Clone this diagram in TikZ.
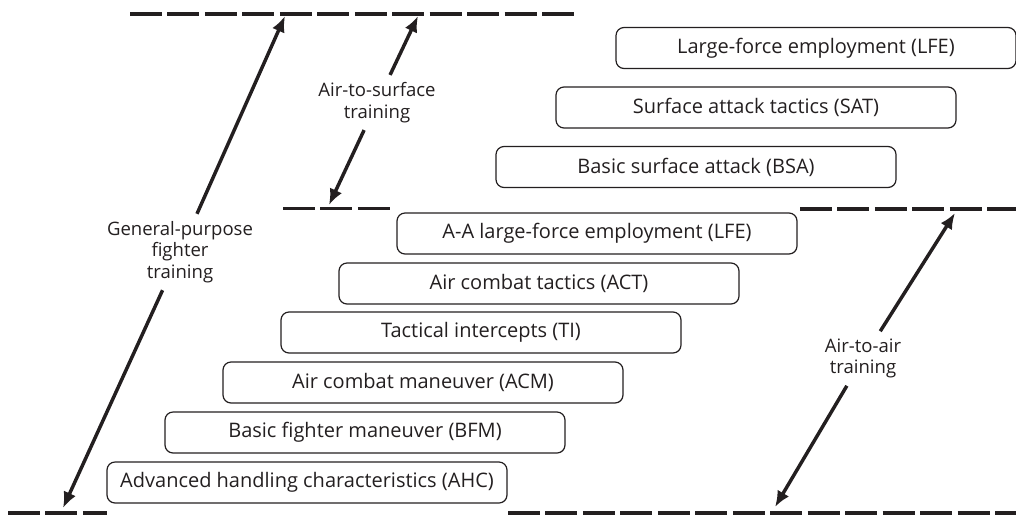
\documentclass[tikz,border=0pt]{standalone}
\usepackage{fontspec}
\setmainfont{Open Sans}
\usetikzlibrary{arrows.meta}
\usepackage{xcolor}
\definecolor{ink}{HTML}{231F20}

\begin{document}
\begin{tikzpicture}[x=0.75pt,y=-0.75pt]
\tikzstyle{course} = [
	shape=rectangle,
	draw=ink, %border of the box
	line width=0.9pt,
	rounded corners=6pt,
	minimum width=300pt, %all boxes have the same size
	minimum height=30.75pt,
	inner sep=0pt,
	text=ink,
	font=\fontsize{15}{18}\selectfont
];
\tikzstyle{phase} = [
	align=center,
	text=ink,
	inner sep=5.5pt, %leaves the gap in the arrow
	font=\fontsize{13.9}{16}\selectfont
];
\tikzstyle{level} = [
	draw=ink,
	line width=2.3pt,
	dash pattern=on 24pt off 4.1pt
];

\useasboundingbox (0,0) rectangle (1016,515);

%air-to-air steps
\begin{scope}[shift={(307,482.5)}]
	\node[course](AHC) at (0,0) {Advanced handling characteristics (AHC)};
	\node[course](BFM) at (58,-50) {Basic fighter maneuver (BFM)};
	\node[course](ACM) at (116,-100) {Air combat maneuver (ACM)};
	\node[course](TI) at (174,-150) {Tactical intercepts (TI)};
	\node[course](ACT) at (232,-199) {Air combat tactics (ACT)};
	\node[course](AALFE) at (290,-249) {A-A large-force employment (LFE)};
\end{scope}

%air-to-surface steps
\begin{scope}[shift={(696,167)}]
	\node[course](BSA) at (0,0) {Basic surface attack (BSA)};
	\node[course](SAT) at (60,-59.5) {Surface attack tactics (SAT)};
	\node[course](LFE) at (120,-119) {Large-force employment (LFE)};
\end{scope}

%levels
\draw[level] (130,14) -- (576,14);
\draw[level] (283,208.5) -- (391,208.5);
\draw[level] (800,209) -- (1016,209);
\draw[level] (8,513) -- (107,513);
\draw[level] (508,513) -- (1016,513);

%phase labels
\node[phase](gp) at (180,252) {General-purpose\\fighter\\training};
\node[phase](as) at (377,102.5) {Air-to-surface\\training};
\node[phase](aa) at (863,358.5) {Air-to-air\\training};

\coordinate (gptop) at (285,16);
\coordinate (gpbot) at (63,508);
\coordinate (astop) at (418,16);
\coordinate (asbot) at (329,205);
\coordinate (aatop) at (955,213);
\coordinate (aabot) at (775,507);

%span arrows
\draw[-{Latex[length=12pt,width=10pt]}, line width=2.6pt, color=ink]
	(gp) edge[] (gptop)
	(gp) edge[] (gpbot)
	(as) edge[] (astop)
	(as) edge[] (asbot)
	(aa) edge[] (aatop)
	(aa) edge[] (aabot)
;

\end{tikzpicture}
\end{document}
